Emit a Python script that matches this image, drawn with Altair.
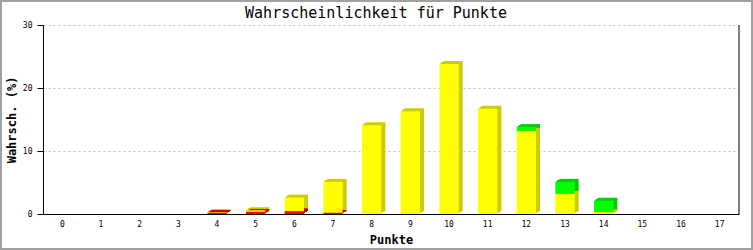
import altair as alt
import pandas as pd

punkte = list(range(18))
rot = [0, 0, 0, 0, 0.2, 0.35, 0.45, 0.2, 0, 0, 0, 0, 0, 0, 0, 0, 0, 0]
gelb = [0, 0, 0, 0, 0.1, 0.25, 2.15, 4.9, 14.1, 16.3, 23.8, 16.7, 13.2, 3.2, 0.3, 0, 0, 0]
gruen = [0, 0, 0, 0, 0, 0, 0, 0, 0, 0, 0, 0, 0.6, 1.9, 1.8, 0, 0, 0]
titel = "Wahrscheinlichkeit für Punkte"

rows = []
for i, p in enumerate(punkte):
    for k, (name, vals) in enumerate([("rot", rot), ("gelb", gelb), ("gruen", gruen)]):
        rows.append({"Punkte": p, "Teil": name, "ord": k, "Wert": vals[i]})
df = pd.DataFrame(rows)

MONO = "DejaVu Sans Mono"
front_colors = ["#FF0000", "#FFFF00", "#00FF00"]
dark_colors = ["#CC0000", "#CCCC00", "#00CC00"]

xenc = alt.X("Punkte:O", title="Punkte",
             scale=alt.Scale(paddingInner=0.5, paddingOuter=0.25),
             axis=alt.Axis(labelAngle=0, ticks=False, grid=False, domainColor="black",
                           labelFont=MONO, labelFontSize=8, labelColor="black", labelPadding=6,
                           titleFont=MONO, titleFontSize=12, titleFontWeight="bold",
                           titleColor="black", titlePadding=6))
yenc = alt.Y("Wert:Q", stack="zero", title="Wahrsch. (%)",
             scale=alt.Scale(domain=[0, 30], nice=False),
             axis=alt.Axis(values=[0, 10, 20, 30], grid=True, gridColor="#c0c0c0",
                           gridDash=[2, 3], domainColor="black", tickColor="black",
                           tickSize=6, labelFont=MONO, labelFontSize=8, labelColor="black",
                           labelPadding=5, titleFont=MONO, titleFontSize=12,
                           titleFontWeight="bold", titleColor="black", titlePadding=4))


def bars(dx, dy, colors):
    return alt.Chart(df).mark_bar(xOffset=dx, yOffset=dy).encode(
        x=xenc,
        y=yenc,
        color=alt.Color("Teil:N", legend=None,
                        scale=alt.Scale(domain=["rot", "gelb", "gruen"], range=colors)),
        order=alt.Order("ord:Q"),
    )


back = alt.layer(*[bars(dx, dy, dark_colors) for dx, dy in [(1, -1), (2, -2), (3, -2), (4, -3)]])
front = bars(0, 0, front_colors)

one = alt.Data(values=[{}])
right_line = alt.Chart(one).mark_rule(color="black").encode(
    x=alt.value(696), y=alt.value(0), y2=alt.value(189))
frame = alt.Chart(one).mark_rect(filled=False, stroke="#a0a0a0", strokeWidth=2).encode(
    x=alt.value(-42), x2=alt.value(709), y=alt.value(-24), y2=alt.value(224))
title = alt.Chart(one).mark_text(font=MONO, fontSize=15, color="black",
                                 align="center", baseline="middle").encode(
    x=alt.value(333), y=alt.value(-12), text=alt.value(titel))

chart = alt.layer(back, front, right_line, frame, title).resolve_scale(
    color="independent"
).properties(
    width=696, height=189,
    autosize=alt.AutoSizeParams(type="none"),
    padding={"left": 43, "top": 25, "right": 14, "bottom": 36},
    background="white",
).configure_view(stroke=None)

chart.save("out.html", embed_options={"renderer": "svg", "actions": False})
